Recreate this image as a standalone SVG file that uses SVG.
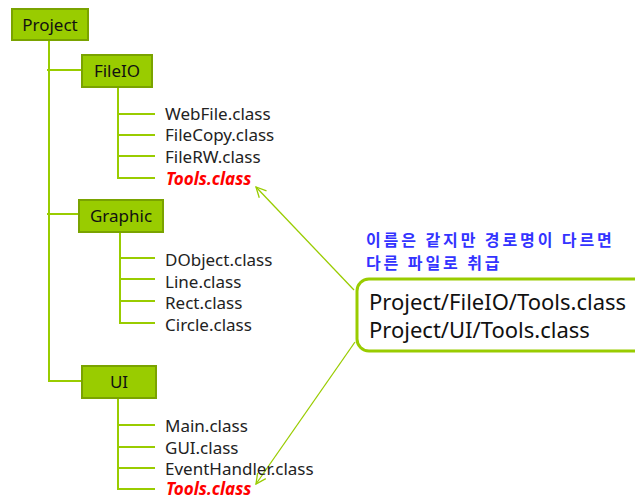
<svg xmlns="http://www.w3.org/2000/svg" width="635" height="499" viewBox="0 0 635 499">
<style>
.box{fill:#99cc00;stroke:#7aa300;stroke-width:2}
.bt{font-family:"Noto Sans","Open Sans",sans-serif;font-size:17px;fill:#111;text-anchor:middle}
.ln{stroke:#99cc00;stroke-width:2;fill:none}
.it{font-family:"Noto Sans","Open Sans",sans-serif;font-size:17px;fill:#222}
.red{font-family:"Noto Sans","Open Sans",sans-serif;font-size:17px;fill:#ff0000;font-weight:bold;font-style:italic}
.ar{stroke:#99cc00;stroke-width:1.3;fill:none}
.kr{font-family:"Noto Sans CJK KR",sans-serif;font-size:16px;font-weight:bold;fill:#3333ff;letter-spacing:2.9px}
.pt{font-family:"Noto Sans","Open Sans",sans-serif;font-size:22px;fill:#111}
</style>
<defs>
<marker id="ah" viewBox="0 0 12 12" refX="11" refY="6" markerWidth="12" markerHeight="12" markerUnits="userSpaceOnUse" orient="auto">
<path d="M1,1 L11,6 L1,11" fill="none" stroke="#99cc00" stroke-width="1.3"/>
</marker>
</defs>
<g id="connectors">
<path class="ln" d="M49,41 V381 H82"/>
<path class="ln" d="M47,70 H82"/>
<path class="ln" d="M47,214 H79"/>
<path class="ln" d="M118,87 V178 H155 M118,114 H155 M118,135 H155 M118,156 H155"/>
<path class="ln" d="M120,232 V323 H155 M120,258 H155 M120,279 H155 M120,301 H155"/>
<path class="ln" d="M118,398 V489 H155 M118,425 H155 M118,447 H155 M118,468 H155"/>
<line class="ar" x1="354" y1="290" x2="256" y2="187" marker-end="url(#ah)"/>
<line class="ar" x1="355" y1="342" x2="256" y2="484" marker-end="url(#ah)"/>
</g>
<g id="project"><rect class="box" x="12" y="9" width="76" height="31"/><text class="bt" x="50" y="31">Project</text></g>
<g id="fileio"><rect class="box" x="82" y="55" width="70" height="32"/><text class="bt" x="117" y="77">FileIO</text></g>
<g id="graphic"><rect class="box" x="79" y="200" width="84" height="32"/><text class="bt" x="121" y="222">Graphic</text></g>
<g id="ui"><rect class="box" x="82" y="366" width="74" height="32"/><text class="bt" x="119" y="388">UI</text></g>
<g id="fileio-items">
<text class="it" x="165" y="120">WebFile.class</text>
<text class="it" x="165" y="141">FileCopy.class</text>
<text class="it" x="165" y="163">FileRW.class</text>
<text class="red" x="166" y="185">Tools.class</text>
</g>
<g id="graphic-items">
<text class="it" x="165" y="266">DObject.class</text>
<text class="it" x="165" y="288">Line.class</text>
<text class="it" x="165" y="309">Rect.class</text>
<text class="it" x="165" y="331">Circle.class</text>
</g>
<g id="ui-items">
<text class="it" x="165" y="432">Main.class</text>
<text class="it" x="165" y="454">GUI.class</text>
<text class="it" x="165" y="475">EventHandler.class</text>
<text class="red" x="166" y="495">Tools.class</text>
</g>
<g id="note">
<text class="kr" x="366" y="246">이름은 같지만 경로명이 다르면</text>
<text class="kr" x="366" y="269">다른 파일로 취급</text>
</g>
<g id="paths">
<rect x="357" y="279" width="290" height="72" rx="12" fill="#fff" stroke="#99cc00" stroke-width="3"/>
<text class="pt" x="369" y="310">Project/FileIO/Tools.class</text>
<text class="pt" x="369" y="338">Project/UI/Tools.class</text>
</g>
</svg>
